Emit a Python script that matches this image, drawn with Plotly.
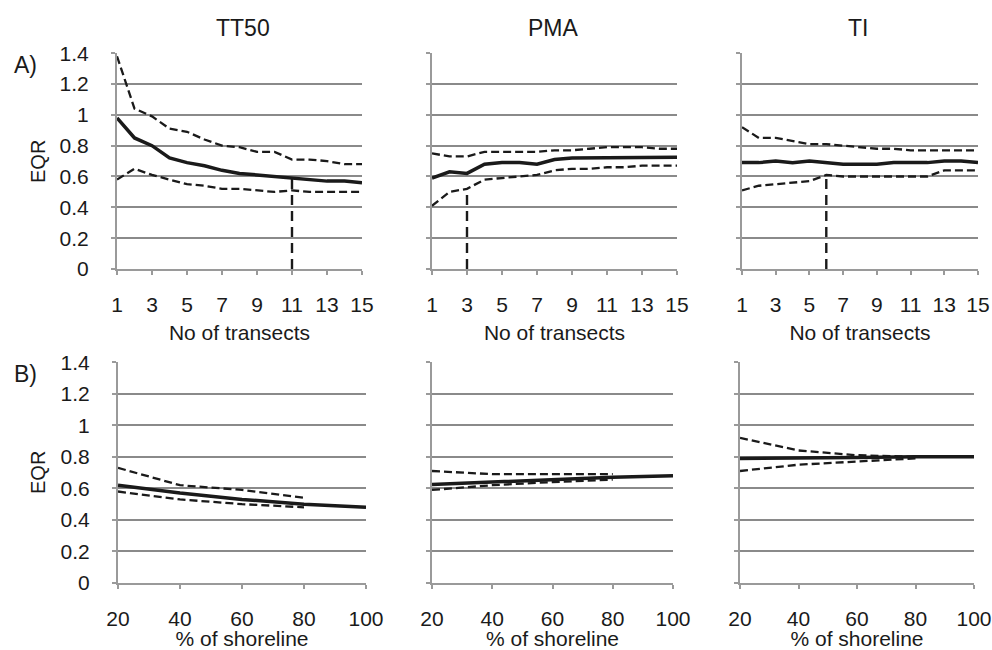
import plotly.graph_objects as go

# ---------------- data ----------------
transects = list(range(1, 16))
shoreline = [20, 40, 60, 80, 100]
shoreline_band = [20, 40, 60, 80]

panel_titles = ["TT50", "PMA", "TI"]

# Row A: EQR vs number of transects
tt50_mean = [0.98, 0.85, 0.80, 0.72, 0.69, 0.67, 0.64, 0.62, 0.61, 0.60, 0.59, 0.58, 0.57, 0.57, 0.56]
tt50_upper = [1.38, 1.04, 0.99, 0.91, 0.89, 0.84, 0.80, 0.79, 0.76, 0.76, 0.71, 0.71, 0.70, 0.68, 0.68]
tt50_lower = [0.58, 0.65, 0.61, 0.58, 0.55, 0.54, 0.52, 0.52, 0.51, 0.50, 0.51, 0.50, 0.50, 0.50, 0.50]

pma_mean = [0.59, 0.63, 0.62, 0.68, 0.69, 0.69, 0.68, 0.71, 0.72, 0.72, 0.72, 0.72, 0.72, 0.72, 0.725]
pma_upper = [0.75, 0.73, 0.73, 0.76, 0.76, 0.76, 0.76, 0.77, 0.77, 0.78, 0.79, 0.79, 0.79, 0.78, 0.78]
pma_lower = [0.41, 0.50, 0.52, 0.58, 0.59, 0.60, 0.61, 0.64, 0.65, 0.65, 0.66, 0.66, 0.67, 0.67, 0.67]

ti_mean = [0.69, 0.69, 0.70, 0.69, 0.70, 0.69, 0.68, 0.68, 0.68, 0.69, 0.69, 0.69, 0.70, 0.70, 0.69]
ti_upper = [0.92, 0.85, 0.85, 0.83, 0.81, 0.81, 0.80, 0.79, 0.78, 0.78, 0.77, 0.77, 0.77, 0.77, 0.77]
ti_lower = [0.51, 0.54, 0.55, 0.56, 0.57, 0.61, 0.60, 0.60, 0.60, 0.60, 0.60, 0.60, 0.64, 0.64, 0.64]

cutoff_x = [11, 3, 6]
cutoff_top = [0.60, 0.52, 0.61]

# Row B: EQR vs % of shoreline
b_tt50_mean = [0.62, 0.57, 0.53, 0.50, 0.48]
b_tt50_upper = [0.73, 0.62, 0.59, 0.54]
b_tt50_lower = [0.58, 0.53, 0.50, 0.48]

b_pma_mean = [0.625, 0.64, 0.66, 0.67, 0.68]
b_pma_upper = [0.71, 0.69, 0.69, 0.69]
b_pma_lower = [0.59, 0.62, 0.64, 0.655]

b_ti_mean = [0.79, 0.79, 0.795, 0.80, 0.80]
b_ti_upper = [0.92, 0.84, 0.81, 0.80]
b_ti_lower = [0.71, 0.75, 0.77, 0.79]

y_ticks = [0, 0.2, 0.4, 0.6, 0.8, 1, 1.2, 1.4]
y_ticktext = ["0", "0.2", "0.4", "0.6", "0.8", "1", "1.2", "1.4"]
x_ticks_a = [1, 3, 5, 7, 9, 11, 13, 15]
x_ticks_b = [20, 40, 60, 80, 100]

row_a = [(tt50_mean, tt50_upper, tt50_lower), (pma_mean, pma_upper, pma_lower), (ti_mean, ti_upper, ti_lower)]
row_b = [(b_tt50_mean, b_tt50_upper, b_tt50_lower), (b_pma_mean, b_pma_upper, b_pma_lower),
         (b_ti_mean, b_ti_upper, b_ti_lower)]

# ---------------- layout geometry ----------------
W, H = 992, 650
def px(x):
    return x / W
def py(y):
    return 1 - y / H

x_dom = [
    [(117, 362), (432, 677), (742, 978)],
    [(118, 366), (432, 673), (740, 974)],
]
y_dom = [(269, 53), (583, 362)]

FONT = "Liberation Sans, Arial, sans-serif"
GRID = "#8a8a8a"
AX = "#9a9a9a"
INK = "#1a1a1a"

fig = go.Figure()
layout = dict(
    width=W, height=H,
    margin=dict(l=0, r=0, t=0, b=0, autoexpand=False),
    paper_bgcolor="white", plot_bgcolor="white",
    showlegend=False,
    font=dict(family=FONT, size=21, color=INK),
)

dash_band = "8px,4px"

for r in range(2):
    for c in range(3):
        k = r * 3 + c + 1
        xa = "x" if k == 1 else f"x{k}"
        ya = "y" if k == 1 else f"y{k}"
        xk = "xaxis" if k == 1 else f"xaxis{k}"
        yk = "yaxis" if k == 1 else f"yaxis{k}"
        x0, x1 = x_dom[r][c]
        yb, yt = y_dom[r]
        if r == 0:
            xs = transects
            xb = transects
            mean, up, lo = row_a[c]
            xr = [1, 15]
            xt = x_ticks_a
            xtitle = "No of transects"
        else:
            xs = shoreline
            xb = shoreline_band
            mean, up, lo = row_b[c]
            xr = [20, 100]
            xt = x_ticks_b
            xtitle = "% of shoreline"

        fig.add_trace(go.Scatter(x=xb, y=up, mode="lines", xaxis=xa, yaxis=ya,
                                 line=dict(color=INK, width=2.3, dash=dash_band)))
        fig.add_trace(go.Scatter(x=xb, y=lo, mode="lines", xaxis=xa, yaxis=ya,
                                 line=dict(color=INK, width=2.3, dash=dash_band)))
        fig.add_trace(go.Scatter(x=xs, y=mean, mode="lines", xaxis=xa, yaxis=ya,
                                 line=dict(color=INK, width=3.5)))
        if r == 0:
            fig.add_trace(go.Scatter(x=[cutoff_x[c], cutoff_x[c]], y=[0, cutoff_top[c]], mode="lines",
                                     xaxis=xa, yaxis=ya,
                                     line=dict(color=INK, width=2.4, dash="10px,6px")))

        layout[xk] = dict(
            domain=[px(x0), px(x1)], anchor=ya, range=xr,
            tickmode="array", tickvals=xt, ticktext=[str(v) for v in xt],
            showgrid=False, zeroline=False,
            showline=True, linecolor=AX, linewidth=2,
            ticks="outside", ticklen=4, tickcolor=AX, tickwidth=1.5,
            tickfont=dict(family=FONT, size=21, color=INK),
            ticklabelstandoff=12,
            title=dict(text=xtitle, font=dict(family=FONT, size=21, color=INK), standoff=10),
        )
        layout[yk] = dict(
            domain=[py(yb), py(yt)], anchor=xa, range=[0, 1.401],
            tickmode="array", tickvals=y_ticks, ticktext=y_ticktext,
            showgrid=True, gridcolor=GRID, gridwidth=2,
            zeroline=False,
            showline=True, linecolor=AX, linewidth=2,
            ticks="outside", ticklen=4, tickcolor=AX, tickwidth=1.5,
            showticklabels=(c == 0),
            tickfont=dict(family=FONT, size=21, color=INK),
            ticklabelstandoff=18,
        )

annotations = []
title_x = [243, 553, 858]
for c, t in enumerate(panel_titles):
    annotations.append(dict(text=t, x=px(title_x[c]), y=py(28), xref="paper", yref="paper",
                            showarrow=False, xanchor="center", yanchor="middle",
                            font=dict(family=FONT, size=23, color=INK)))
annotations.append(dict(text="A)", x=px(25), y=py(65), xref="paper", yref="paper",
                        showarrow=False, xanchor="center", yanchor="middle",
                        font=dict(family=FONT, size=23, color=INK)))
annotations.append(dict(text="B)", x=px(25), y=py(374), xref="paper", yref="paper",
                        showarrow=False, xanchor="center", yanchor="middle",
                        font=dict(family=FONT, size=23, color=INK)))
for yy in [162, 473]:
    annotations.append(dict(text="EQR", x=px(38), y=py(yy), xref="paper", yref="paper",
                            showarrow=False, xanchor="center", yanchor="middle", textangle=-90,
                            font=dict(family=FONT, size=20, color=INK)))
layout["annotations"] = annotations

fig.update_layout(**layout)
# remove the default 8px page margin so the 992x650 figure fills the window exactly
fig.write_html("out.html",
               config={"displayModeBar": False},
               post_script="document.body.style.margin='0';document.body.style.overflow='hidden';")
